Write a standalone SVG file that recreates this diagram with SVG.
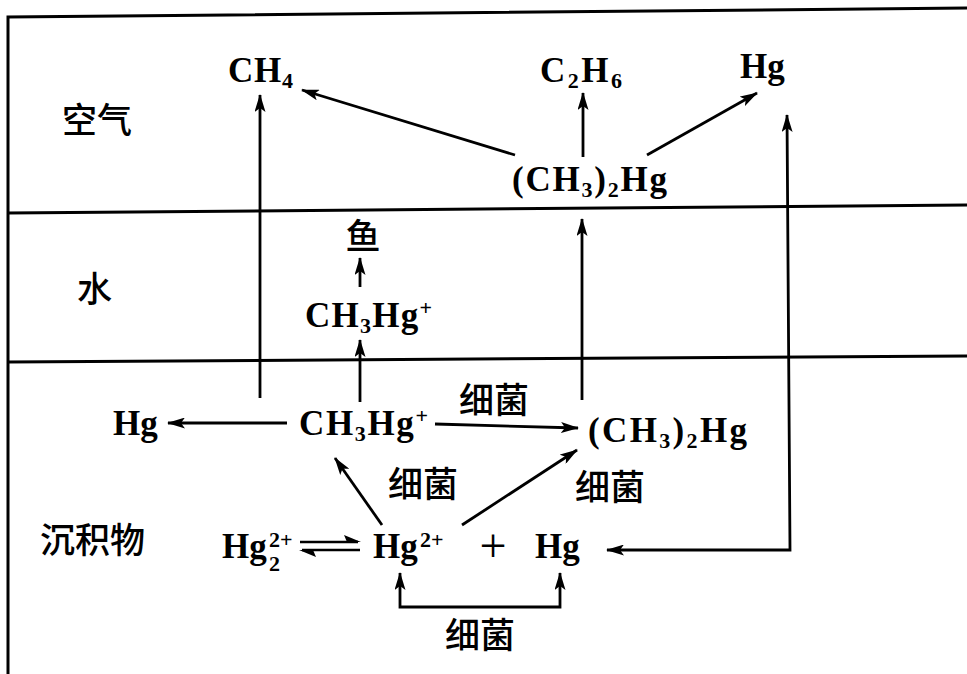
<svg xmlns="http://www.w3.org/2000/svg" width="967" height="674" viewBox="0 0 967 674">
<style>
.f{font-family:"Liberation Serif","Times New Roman",serif;font-weight:bold;font-size:35px;fill:#000}
.s{font-size:22px}
.c{font-family:"Noto Sans CJK SC","Noto Sans",sans-serif;font-weight:500;font-size:35px;fill:#000}
.b{fill:none;stroke:#000;stroke-width:3}
.a{fill:none;stroke:#000;stroke-width:2.8;marker-end:url(#ah)}
.a2{fill:none;stroke:#000;stroke-width:2.8;marker-end:url(#ah);marker-start:url(#ahs)}
</style>
<defs>
<marker id="ah" viewBox="0 0 18 11" refX="17" refY="5.5" markerWidth="18" markerHeight="11" markerUnits="userSpaceOnUse" orient="auto"><path d="M0,0 L18,5.5 L0,11 L4,5.5 z" fill="#000"/></marker>
<marker id="ahs" viewBox="0 0 18 11" refX="17" refY="5.5" markerWidth="18" markerHeight="11" markerUnits="userSpaceOnUse" orient="auto-start-reverse"><path d="M0,0 L18,5.5 L0,11 L4,5.5 z" fill="#000"/></marker>
</defs>
<rect width="967" height="674" fill="#fff"/>
<g id="frame">
<path class="b" d="M8,674 L8,17 L967,8"/>
<path class="b" d="M8,213 L967,205"/>
<path class="b" d="M8,362 L967,356"/>
</g>
<g id="zones">
<text class="c" x="62" y="133" font-size="36">空气</text>
<text class="c" x="77" y="302" font-size="36">水</text>
<text class="c" x="40" y="553" font-size="36">沉积物</text>
</g>
<g id="connectors">
<path class="a" d="M260,398 L260,95"/>
<path class="a" d="M515,155 L302,90"/>
<path class="a" d="M583,157 L583,93"/>
<path class="a" d="M647,155 L757,93"/>
<path class="a" d="M360,287 L360,258"/>
<path class="a" d="M360,402 L360,340"/>
<path class="a" d="M582,400 L582,219"/>
<path class="a" d="M287,423 L168,423"/>
<path class="a" d="M435,424 L578,428"/>
<path class="a" d="M382,525 L335,458"/>
<path class="a" d="M462,525 L577,450"/>
<path class="a2" d="M607,550 L790,550 L787,115"/>
<path class="a2" d="M400,573 L400,607 L560,607 L560,573"/>
<g id="equilibrium">
<path d="M300,542 L358,542" stroke="#000" stroke-width="2.6"/>
<path d="M361,542 L344,535 L347,542 z" fill="#000"/>
<path d="M302,550 L360,550" stroke="#000" stroke-width="2.6"/>
<path d="M299,550 L316,557 L313,550 z" fill="#000"/>
</g>
</g>
<g id="ch4_air"><text class="f" x="228" y="82" textLength="65">CH<tspan class="s" dy="6">4</tspan></text></g>
<g id="c2h6_air"><text class="f" x="540" y="82" textLength="82">C<tspan class="s" dy="6">2</tspan><tspan dy="-6">H</tspan><tspan class="s" dy="6">6</tspan></text></g>
<g id="hg_air"><text class="f" x="740" y="78">Hg</text></g>
<g id="dmhg_air"><text class="f" x="512" y="191" textLength="155">(CH<tspan class="s" dy="6">3</tspan><tspan dy="-6">)</tspan><tspan class="s" dy="6">2</tspan><tspan dy="-6">Hg</tspan></text></g>
<g id="fish"><text class="c" x="363" y="249" font-size="34" text-anchor="middle">鱼</text></g>
<g id="mehg_water"><text class="f" x="305" y="327" textLength="127">CH<tspan class="s" dy="6">3</tspan><tspan dy="-6">Hg</tspan><tspan class="s" dy="-12">+</tspan></text></g>
<g id="hg_sed"><text class="f" x="113" y="435">Hg</text></g>
<g id="mehg_sed"><text class="f" x="299" y="435" textLength="129">CH<tspan class="s" dy="6">3</tspan><tspan dy="-6">Hg</tspan><tspan class="s" dy="-12">+</tspan></text></g>
<g id="dmhg_sed"><text class="f" x="588" y="442" textLength="159">(CH<tspan class="s" dy="6">3</tspan><tspan dy="-6">)</tspan><tspan class="s" dy="6">2</tspan><tspan dy="-6">Hg</tspan></text></g>
<g id="labels">
<text class="c" x="459" y="413">细菌</text>
<text class="c" x="388" y="497">细菌</text>
<text class="c" x="575" y="500">细菌</text>
<text class="c" x="445" y="648">细菌</text>
</g>
<g id="hg2_2plus"><text class="f" x="222" y="558">Hg</text><text class="f s" x="269" y="547">2+</text><text class="f s" x="269" y="571">2</text></g>
<g id="hg2plus"><text class="f" x="373" y="558">Hg</text><text class="f s" x="420" y="547">2+</text></g>
<g id="plus"><text x="493" y="562" text-anchor="middle" font-family="Liberation Serif,serif" font-size="48" fill="#000">+</text></g>
<g id="hg0_sed"><text class="f" x="535" y="558">Hg</text></g>
</svg>
